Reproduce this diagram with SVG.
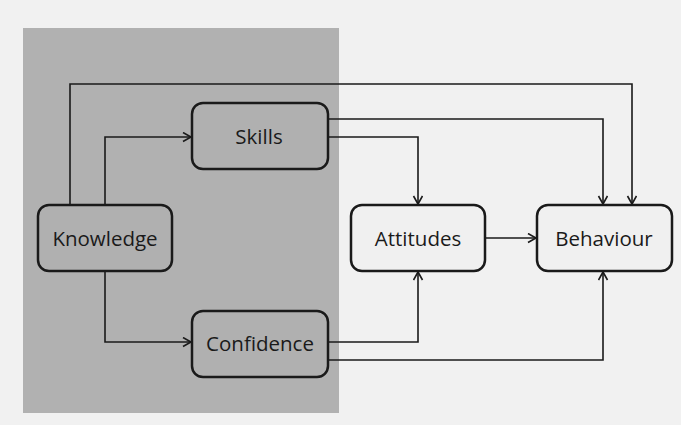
<svg xmlns="http://www.w3.org/2000/svg" width="681" height="425" viewBox="0 0 681 425">
  <style>
    .box { stroke: #1a1a1a; stroke-width: 2.5; }
    .dark { fill: #b0b0b0; }
    .light { fill: #f0f0f0; }
    .lbl { font-family: "Open Sans", "Liberation Sans", sans-serif; font-size: 20.5px; fill: #1a1a1a; text-anchor: middle; }
    .conn { fill: none; stroke: #1a1a1a; stroke-width: 1.6; marker-end: url(#arr); }
  </style>
  <defs>
    <marker id="arr" markerUnits="userSpaceOnUse" markerWidth="12" markerHeight="12" refX="9" refY="5" orient="auto">
      <path d="M1,0.5 L9,5 L1,9.5" fill="none" stroke="#1a1a1a" stroke-width="1.6"/>
    </marker>
  </defs>
  <rect x="0" y="0" width="681" height="425" fill="#f1f1f1"/>
  <rect x="23" y="28" width="316" height="385" fill="#b1b1b1"/>

  <g id="connectors">
    <path class="conn" d="M70,205 V84 H632 V204"/>
    <path class="conn" d="M105,205 V137 H191"/>
    <path class="conn" d="M329,119 H603 V204"/>
    <path class="conn" d="M329,137 H418 V204"/>
    <path class="conn" d="M486,238 H536"/>
    <path class="conn" d="M105,271 V342 H191"/>
    <path class="conn" d="M329,342 H418 V272"/>
    <path class="conn" d="M329,360 H603 V272"/>
  </g>

  <g id="knowledge">
    <rect class="box dark" x="38" y="205" width="134" height="66" rx="11"/>
    <text class="lbl" x="105" y="246">Knowledge</text>
  </g>
  <g id="skills">
    <rect class="box dark" x="192" y="103" width="136" height="66" rx="11"/>
    <text class="lbl" x="259" y="144">Skills</text>
  </g>
  <g id="confidence">
    <rect class="box dark" x="192" y="311" width="136" height="66" rx="11"/>
    <text class="lbl" x="260" y="351">Confidence</text>
  </g>
  <g id="attitudes">
    <rect class="box light" x="351" y="205" width="134" height="66" rx="11"/>
    <text class="lbl" x="418" y="246">Attitudes</text>
  </g>
  <g id="behaviour">
    <rect class="box light" x="537" y="205" width="135" height="66" rx="11"/>
    <text class="lbl" x="604" y="246">Behaviour</text>
  </g>
</svg>
